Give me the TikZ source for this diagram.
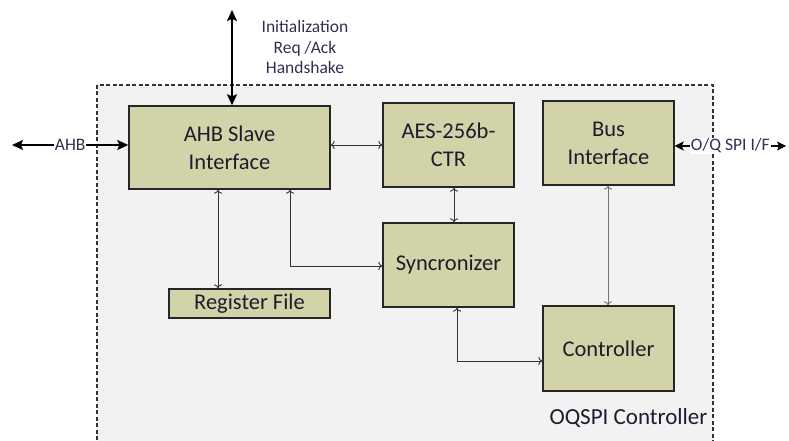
\documentclass[tikz,border=0pt]{standalone}
\usepackage{fontspec}
\setmainfont{Carlito}
\usetikzlibrary{arrows.meta}
\definecolor{blockfill}{RGB}{211,211,170}
\definecolor{ctrlbg}{RGB}{242,242,242}
\definecolor{txt}{RGB}{28,28,44}
\definecolor{smalltxt}{RGB}{48,48,80}
\begin{document}
\begin{tikzpicture}[x=1pt, y=-1pt, font=\fontsize{22.5}{28}\selectfont, text=txt,
	block/.style={draw=black!85, line width=1.4pt, fill=blockfill, align=center, inner sep=0pt},
	link/.style={draw=black!80, line width=0.9pt, {To[length=4pt,width=8pt]}-{To[length=4pt,width=8pt]}},
	ext/.style={draw=black, line width=1.3pt, {Stealth[length=11pt,width=10pt,inset=2pt]}-{Stealth[length=11pt,width=10pt,inset=2pt]}},
	lbl/.style={fill=white, inner sep=1pt, align=center, text=smalltxt, font=\fontsize{17.5}{20.5}\selectfont}]
	\useasboundingbox (0,0) rectangle (789,441);
	% controller frame
	\draw[fill=ctrlbg, draw=black!80, line width=1.2pt, dash pattern=on 4pt off 2.5pt] (97,85) rectangle (713,470);
	\node[anchor=west, font=\fontsize{23}{28}\selectfont] (oqspi) at (546,418) {OQSPI Controller};
	% blocks
	\node[block, minimum width=201pt, minimum height=83pt] (ahb) at (229.5,147.5) {AHB Slave\\Interface};
	\node[block, minimum width=131pt, minimum height=84pt] (aes) at (448.5,145) {AES-256b-\\CTR};
	\node[block, minimum width=131pt, minimum height=84pt] (bus) at (608.5,143) {Bus\\Interface};
	\node[block, minimum width=131pt, minimum height=84pt] (sync) at (448.5,265) {Syncronizer};
	\node[block, minimum width=161pt, minimum height=29pt] (reg) at (249.5,303.5) {Register File};
	\node[block, minimum width=131pt, minimum height=85pt] (ctrl) at (608.5,348.5) {Controller};
	% outside signals
	\coordinate (init) at (232,10);
	\coordinate (ahbin) at (12,145);
	\coordinate (spiout) at (786,146);
	\node[lbl, fill=none] (initlbl) at (305,47) {Initialization\\Req /Ack\\Handshake};
	\draw[ext] (init) -- (init |- ahb.north);
	\draw[ext] (ahbin) -- node[lbl] (ahblbl) {AHB} (ahbin -| ahb.west);
	\draw[ext, line width=1.1pt, {Stealth[length=9pt,width=9pt,inset=2pt]}-{Stealth[length=9pt,width=9pt,inset=2pt]}] (bus.east |- spiout) -- node[lbl] (spilbl) {O/Q SPI I/F} (spiout);
	% internal links
	\coordinate (rx) at (218,0);
	\coordinate (sx) at (290,266);
	\coordinate (cx) at (457,361);
	\draw[link] (aes.west -| ahb.east) -- (aes.west);
	\draw[link] (ahb.south -| rx) -- (reg.north -| rx);
	\draw[link] (ahb.south -| sx) -- (sx) -- (sync.west |- sx);
	\draw[link] (aes.south -| 454,0) -- (sync.north -| 454,0);
	\draw[link] (sync.south -| cx) -- (cx) -- (ctrl.west |- cx);
	\draw[link, draw=black!55] (bus.south -| 608,0) -- (ctrl.north -| 608,0);
\end{tikzpicture}
\end{document}
